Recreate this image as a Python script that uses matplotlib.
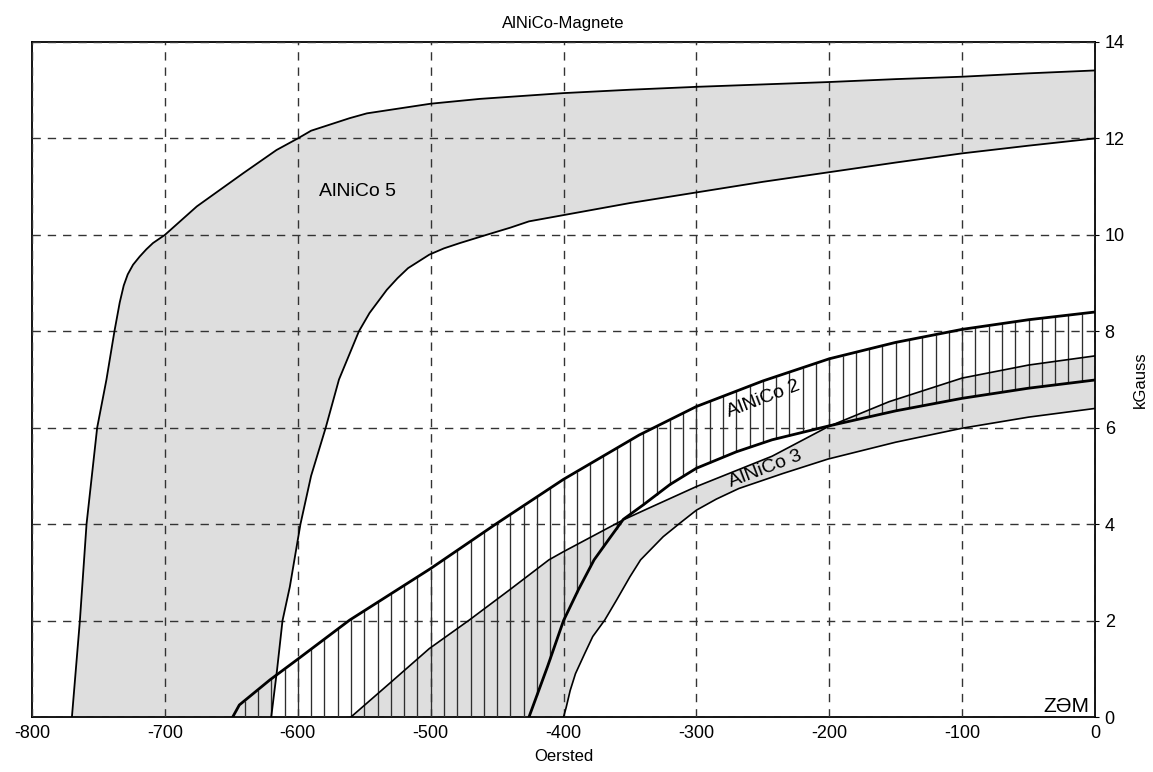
import numpy as np
import matplotlib
matplotlib.use("Agg")
import matplotlib.pyplot as plt

plt.rcParams['font.family'] = ['Liberation Sans', 'DejaVu Sans']
plt.rcParams['axes.unicode_minus'] = False

# AlNiCo 5 (grey band)
a5_up_x = [-770, -764, -759, -751, -744, -738, -734, -731, -728, -724, -719, -714, -709, -700,
           -676, -641, -616, -600, -590, -561, -548, -500, -463, -400, -350, -300, -250,
           -200, -150, -100, -50, 0]
a5_up_y = [0, 2, 4, 6, 7, 8, 8.6, 8.95, 9.18, 9.38, 9.55, 9.7, 9.83, 10,
           10.59, 11.28, 11.76, 12, 12.16, 12.42, 12.52, 12.72, 12.82, 12.94, 13.01, 13.07, 13.12,
           13.17, 13.23, 13.28, 13.35, 13.41]
a5_lo_x = [-620, -615.6, -611.5, -606, -598, -590, -579, -569, -554, -546, -533, -525, -517, -501,
           -490, -478, -458, -440, -426, -400, -350, -300, -250, -200, -150, -100, -50, 0]
a5_lo_y = [0, 0.98, 2, 2.7, 4, 5, 6, 7, 8, 8.38, 8.86, 9.1, 9.31, 9.59,
           9.72, 9.83, 10, 10.15, 10.28, 10.41, 10.66, 10.88, 11.1, 11.30, 11.5, 11.69, 11.85, 12.0]

# AlNiCo 2 (hatched band)
a2_up_x = [-649, -644, -621, -600, -561, -500, -450, -400, -343, -300, -250, -200, -150, -100, -50, 0]
a2_up_y = [0, 0.25, 0.77, 1.2, 2.01, 3.08, 4.02, 4.93, 5.85, 6.44, 6.97, 7.43, 7.77, 8.04, 8.24, 8.4]
a2_lo_x = [-426, -412, -400, -389, -377, -365, -355, -340, -320, -300, -270, -243, -200, -150, -100, -50, 0]
a2_lo_y = [0, 1.05, 2.0, 2.63, 3.26, 3.72, 4.1, 4.4, 4.82, 5.16, 5.5, 5.75, 6.04, 6.35, 6.61, 6.82, 6.99]

# AlNiCo 3 (grey band)
a3_up_x = [-560, -530, -501, -471, -440, -411, -400, -355, -336, -300, -243, -201, -155, -100, -50, 0]
a3_up_y = [0, 0.72, 1.42, 2.01, 2.65, 3.26, 3.43, 4.09, 4.33, 4.78, 5.41, 6.02, 6.54, 7.03, 7.3, 7.49]
a3_lo_x = [-400, -398, -395, -391, -384, -378, -369, -360, -350, -342, -325, -312, -300, -285,
           -268, -235, -201, -150, -100, -50, 0]
a3_lo_y = [0, 0.2, 0.55, 0.9, 1.32, 1.67, 2.01, 2.43, 2.91, 3.26, 3.74, 4.03, 4.29, 4.52,
           4.74, 5.05, 5.35, 5.7, 5.99, 6.22, 6.4]

x_ticks = [-800, -700, -600, -500, -400, -300, -200, -100, 0]
y_ticks = [0, 2, 4, 6, 8, 10, 12, 14]

grey = '#dedede'

fig = plt.figure(figsize=(11.53, 7.72), dpi=100)
ax = fig.add_axes([0.0278, 0.0712, 0.9219, 0.8744])


def band(ax, ux, uy, lx, ly, color):
    # polygon: upper curve left->right, lower curve right->left, closed along y=0
    px = list(ux) + list(lx)[::-1]
    py = list(uy) + list(ly)[::-1]
    ax.fill(px, py, color=color, lw=0, zorder=1)


band(ax, a5_up_x, a5_up_y, a5_lo_x, a5_lo_y, grey)
band(ax, a3_up_x, a3_up_y, a3_lo_x, a3_lo_y, grey)

ax.set_xlim(-800, 0)
ax.set_ylim(0, 14)
ax.set_xticks(x_ticks)
ax.set_yticks(y_ticks)
ax.grid(True, color='#333333', linestyle=(0, (6, 5)), linewidth=1.0, zorder=2)
ax.set_axisbelow(False)

# hatching for AlNiCo 2
hx = np.arange(-640, 0, 10)
h_top = np.interp(hx, a2_up_x, a2_up_y)
h_bot = np.interp(hx, a2_lo_x, a2_lo_y, left=0)
ax.vlines(hx, h_bot, h_top, color='#2e2e2e', lw=0.95, zorder=3)

ax.plot(a5_up_x, a5_up_y, color='black', lw=1.3, zorder=4)
ax.plot(a5_lo_x, a5_lo_y, color='black', lw=1.3, zorder=4)
ax.plot(a3_up_x, a3_up_y, color='black', lw=1.2, zorder=4)
ax.plot(a3_lo_x, a3_lo_y, color='black', lw=1.2, zorder=4)
ax.plot(a2_up_x, a2_up_y, color='black', lw=2.0, zorder=5)
ax.plot(a2_lo_x, a2_lo_y, color='black', lw=2.0, zorder=5)

ax.text(-555, 10.9, 'AlNiCo 5', fontsize=14, ha='center', va='center', zorder=6)
ax.text(-250, 6.6, 'AlNiCo 2', fontsize=14, ha='center', va='center', rotation=21, zorder=6)
ax.text(-248, 5.15, 'AlNiCo 3', fontsize=14, ha='center', va='center', rotation=21, zorder=6)

# little logo in the corner, sitting on the bottom axis
ax.text(-4, 0.02, 'ZƏM', fontsize=15, ha='right', va='bottom', zorder=6)

ax.yaxis.tick_right()
ax.yaxis.set_label_position('right')
ax.tick_params(axis='x', length=0, labelsize=13, pad=6)
ax.tick_params(axis='y', length=3, labelsize=13, pad=4)
for s in ax.spines.values():
    s.set_linewidth(1.3)

ax.set_title('AlNiCo-Magnete', fontsize=12, pad=10)
ax.set_xlabel('Oersted', fontsize=12, labelpad=5)
ax.set_ylabel('kGauss', fontsize=12, labelpad=6)

fig.savefig('out.png', dpi=100)
